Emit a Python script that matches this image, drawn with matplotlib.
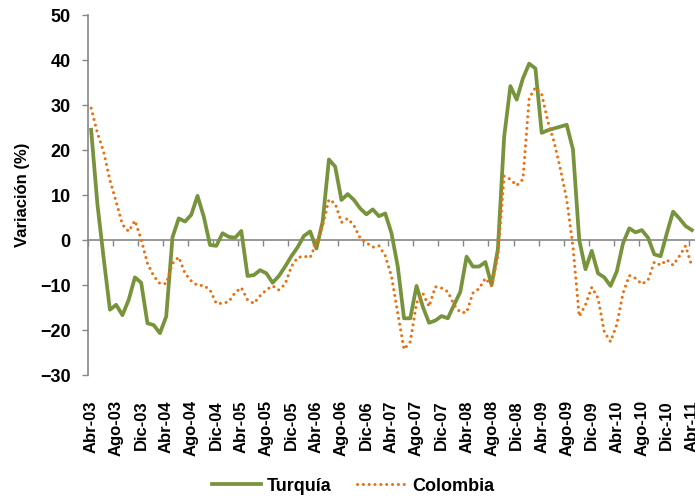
import matplotlib.pyplot as plt

# Datos mensuales, Abr-03 a Abr-11
turquia = [24.5, 8.0, -4.0, -15.5, -14.4, -16.7, -13.3, -8.3, -9.5, -18.5,
           -18.9, -20.7, -17.0, 0.6, 4.8, 4.1, 5.6, 9.8, 5.2, -1.1,
           -1.3, 1.5, 0.7, 0.5, 2.0, -8.0, -7.8, -6.7, -7.4, -9.5,
           -8.0, -5.9, -3.6, -1.6, 0.9, 1.9, -1.9, 4.1, 17.9, 16.3,
           8.9, 10.2, 8.9, 7.0, 5.7, 6.8, 5.3, 5.9, 1.5, -5.9,
           -17.4, -17.4, -10.2, -14.8, -18.4, -17.9, -16.9, -17.4, -14.4, -11.5,
           -3.7, -5.9, -5.9, -4.9, -10.0, -2.0, 22.9, 34.2, 31.2, 35.9,
           39.2, 38.1, 23.8, 24.4, 24.8, 25.2, 25.6, 20.1, 0.0, -6.5,
           -2.4, -7.4, -8.3, -10.2, -7.0, -0.7, 2.6, 1.7, 2.2, 0.5,
           -3.2, -3.6, 1.5, 6.3, 4.8, 3.1, 2.2]

colombia = [29.3, 23.8, 19.6, 13.3, 8.5, 3.4, 1.9, 4.3, 0.1, -5.2,
            -8.0, -9.7, -9.7, -5.2, -3.8, -7.4, -9.1, -10.1, -10.1, -11.1,
            -14.1, -14.1, -13.7, -11.7, -10.6, -13.3, -14.1, -12.4, -11.1, -10.2,
            -11.1, -9.8, -5.9, -3.9, -3.6, -3.9, -0.6, 3.2, 9.0, 8.1,
            3.9, 4.8, 3.2, 0.4, -0.6, -1.6, -1.3, -3.5, -8.1, -16.3,
            -24.3, -22.6, -14.0, -11.8, -14.8, -10.4, -10.7, -11.5, -14.4, -16.1,
            -16.1, -11.8, -10.8, -8.5, -10.2, -3.5, 14.2, 13.5, 12.1, 13.5,
            31.5, 33.9, 32.4, 26.3, 21.7, 15.7, 9.0, -1.5, -17.0, -14.4,
            -10.5, -12.9, -20.4, -22.6, -18.8, -11.8, -7.9, -8.5, -9.8, -8.9,
            -4.9, -5.6, -4.4, -5.6, -3.6, -1.3, -5.9]

etiquetas = ['Abr-03', 'Ago-03', 'Dic-03', 'Abr-04', 'Ago-04', 'Dic-04',
             'Abr-05', 'Ago-05', 'Dic-05', 'Abr-06', 'Ago-06', 'Dic-06',
             'Abr-07', 'Ago-07', 'Dic-07', 'Abr-08', 'Ago-08', 'Dic-08',
             'Abr-09', 'Ago-09', 'Dic-09', 'Abr-10', 'Ago-10', 'Dic-10',
             'Abr-11']

plt.rcParams['font.family'] = ['Liberation Sans', 'DejaVu Sans']
plt.rcParams['font.weight'] = 'bold'

gris = '#868686'
meses = list(range(len(turquia)))

fig = plt.figure(figsize=(6.95, 4.98), dpi=100)
ax = fig.add_axes([88 / 695, 1 - 375 / 498, 607 / 695, 360 / 498])

ax.plot(meses, turquia, color='#77933C', lw=2.7, label='Turquía', zorder=3)
ax.plot(meses, colombia, color='#E8700F', lw=2.2, linestyle=(0, (0.01, 1.9)),
        dash_capstyle='round', label='Colombia', zorder=4)

ax.set_xlim(-0.5, len(turquia) - 0.5)
ax.set_ylim(-30, 50)
ax.set_yticks(range(-30, 51, 10))
ax.tick_params(axis='y', length=4.5, width=1, color=gris, labelsize=13, pad=8)
for t in ax.get_yticklabels():
    t.set_fontweight('bold')

# eje de categorías cruzando en 0
for s in ['top', 'right']:
    ax.spines[s].set_visible(False)
ax.spines['left'].set_color(gris)
ax.spines['left'].set_linewidth(1.2)
ax.spines['bottom'].set_position(('data', 0))
ax.spines['bottom'].set_color(gris)
ax.spines['bottom'].set_linewidth(1.2)
ax.set_xticks([k * 4 - 0.5 for k in range(len(etiquetas))])
ax.tick_params(axis='x', length=4, width=1, color=gris, labelbottom=False)

# etiquetas abajo
sec = ax.secondary_xaxis('bottom')
sec.spines['bottom'].set_visible(False)
sec.set_xticks([k * 4 for k in range(len(etiquetas))])
sec.set_xticklabels(etiquetas, rotation=90, fontsize=12, fontweight='bold')
sec.tick_params(axis='x', length=0, pad=18)

ax.set_ylabel('Variación (%)', fontsize=12, fontweight='bold', labelpad=7)

fig.legend(loc='center', bbox_to_anchor=(353 / 695, 1 - 486 / 498), ncol=2,
           frameon=False, prop={'size': 13, 'weight': 'bold'},
           handlelength=2.7, handletextpad=0.35, columnspacing=1.4)

plt.savefig('out.png', dpi=100)
